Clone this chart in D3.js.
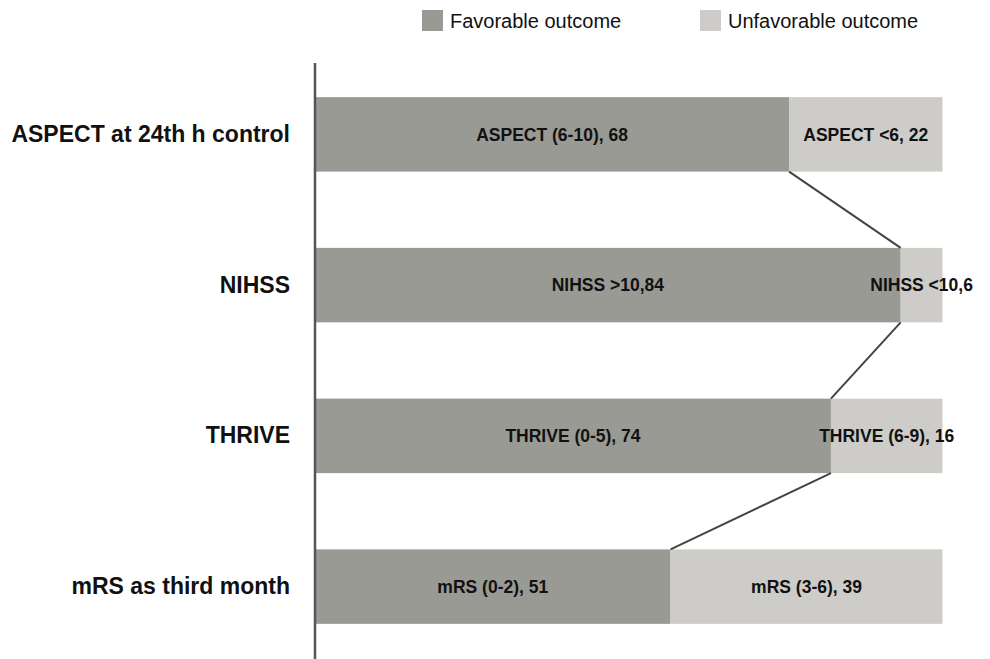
<!DOCTYPE html>
<html>
<head>
<meta charset="utf-8">
<script src="https://cdn.jsdelivr.net/npm/d3@7/dist/d3.min.js"></script>
<style>
  html, body { margin: 0; padding: 0; background: #fff; }
  svg { display: block; font-family: "Liberation Sans", Arial, Helvetica, sans-serif; }
</style>
</head>
<body>
<svg id="chart" width="990" height="659"></svg>
<script>
const categories = ["ASPECT at 24th h control", "NIHSS", "THRIVE", "mRS as third month"];
const favorable = [68, 84, 74, 51];
const unfavorable = [22, 6, 16, 39];
const favorableLabels = ["ASPECT (6-10), 68", "NIHSS >10,84", "THRIVE (0-5), 74", "mRS (0-2), 51"];
const unfavorableLabels = ["ASPECT <6, 22", "NIHSS <10,6", "THRIVE (6-9), 16", "mRS (3-6), 39"];
const seriesNames = ["Favorable outcome", "Unfavorable outcome"];
const colors = ["#9a9a95", "#cdccc8"];

const svg = d3.select("#chart");

const x = d3.scaleLinear().domain([0, 90]).range([315, 942.5]);
const y = d3.scaleBand().domain(categories).range([59, 662]).paddingInner(0.506).paddingOuter(0.253);

const rows = categories.map((c, i) => ({
  cat: c,
  segs: [
    { x0: 0, x1: favorable[i], label: favorableLabels[i], color: colors[0] },
    { x0: favorable[i], x1: favorable[i] + unfavorable[i], label: unfavorableLabels[i], color: colors[1] }
  ]
}));

const g = svg.append("g");

// bars
rows.forEach(r => {
  g.selectAll(null).data(r.segs).enter().append("rect")
    .attr("x", d => x(d.x0))
    .attr("width", d => x(d.x1) - x(d.x0))
    .attr("y", y(r.cat))
    .attr("height", y.bandwidth())
    .attr("fill", d => d.color);
});

// connector lines
for (let i = 0; i < categories.length - 1; i++) {
  g.append("line")
    .attr("x1", x(favorable[i]))
    .attr("y1", y(categories[i]) + y.bandwidth())
    .attr("x2", x(favorable[i + 1]))
    .attr("y2", y(categories[i + 1]))
    .attr("stroke", "#444")
    .attr("stroke-width", 2);
}

// bar labels
rows.forEach(r => {
  g.selectAll(null).data(r.segs).enter().append("text")
    .attr("x", d => (x(d.x0) + x(d.x1)) / 2)
    .attr("y", y(r.cat) + y.bandwidth() / 2)
    .attr("dy", "0.35em")
    .attr("text-anchor", "middle")
    .attr("font-size", "17.5px")
    .attr("font-weight", "bold")
    .attr("fill", "#111")
    .text(d => d.label);
});

// category axis
const axis = d3.axisLeft(y).tickSize(0).tickPadding(25);
const ax = svg.append("g").attr("transform", `translate(${x(0)},0)`).call(axis);
ax.select(".domain").remove();
ax.append("line").attr("x1", 0).attr("x2", 0).attr("y1", 63).attr("y2", 659)
  .attr("stroke", "#555").attr("stroke-width", 2.5);
ax.selectAll(".tick text")
  .attr("font-size", "23px")
  .attr("font-weight", "bold")
  .attr("fill", "#111")
  .attr("font-family", "'Liberation Sans', Arial, Helvetica, sans-serif");

// legend
const legendX = [422, 700];
const lg = svg.append("g");
seriesNames.forEach((n, i) => {
  lg.append("rect").attr("x", legendX[i]).attr("y", 10).attr("width", 21).attr("height", 21).attr("fill", colors[i]);
  lg.append("text").attr("x", legendX[i] + 28).attr("y", 20.5).attr("dy", "0.35em")
    .attr("font-size", "20px").attr("fill", "#111").text(n);
});
</script>
</body>
</html>
